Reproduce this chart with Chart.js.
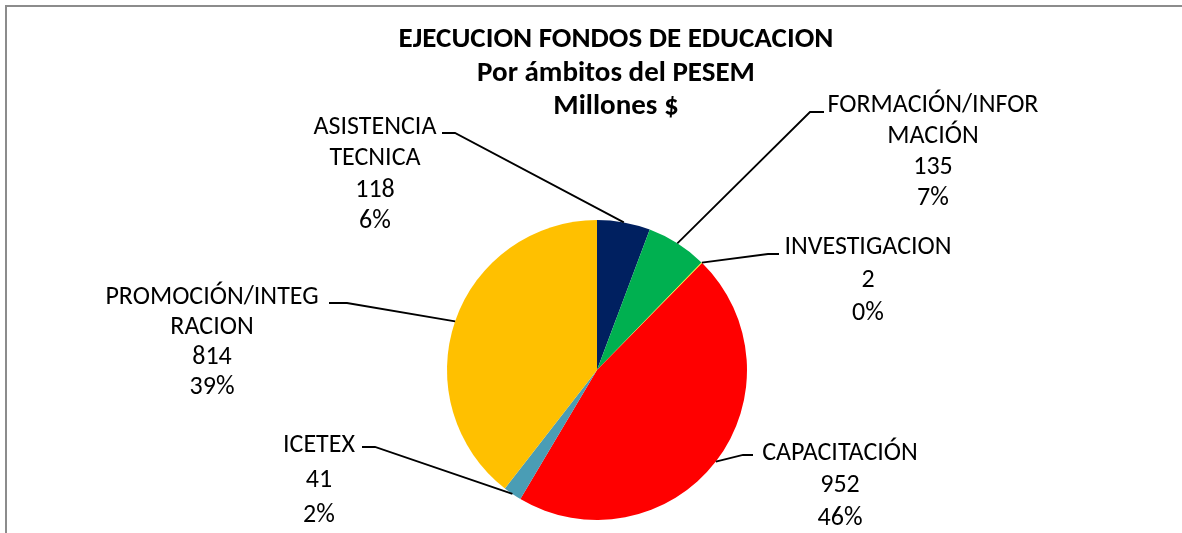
<!DOCTYPE html>
<html>
<head>
<meta charset="utf-8">
<script src="https://cdn.jsdelivr.net/npm/chart.js@4.4.1/dist/chart.umd.min.js"></script>
<style>
  html, body { margin: 0; padding: 0; background: #fff; }
  #wrap { width: 1182px; height: 533px; position: relative; }
</style>
</head>
<body>
<div id="wrap"><canvas id="pieChart" width="1182" height="533"></canvas></div>
<script>
// Datos del gráfico
const categories = ['ASISTENCIA TECNICA', 'FORMACIÓN/INFORMACIÓN', 'INVESTIGACION', 'CAPACITACIÓN', 'ICETEX', 'PROMOCIÓN/INTEGRACION'];
const values = [118, 135, 2, 952, 41, 814];
const sliceColors = ['#002060', '#00B050', '#FFFF00', '#FF0000', '#4A9DB5', '#FFC000'];
const titleLines = ['EJECUCION FONDOS DE EDUCACION', 'Por ámbitos del PESEM', 'Millones $'];

// Posición de cada etiqueta (centro x, primera línea y, interlineado, línea guía [inicio x, codo x, y])
const labelPos = [
  { cx: 375, y: 127, lh: 31.5, line: [442, 455, 133] },
  { cx: 933, y: 105, lh: 31, line: [824, 810, 112] },
  { cx: 868, y: 247, lh: 33, line: [779, 768, 254] },
  { cx: 840, y: 453, lh: 32.5, line: [753, 743, 455] },
  { cx: 319, y: 445, lh: 35, line: [362, 375, 447] },
  { cx: 212, y: 297, lh: 30, line: [329, 347, 303] }
];

const FONT = 'Carlito, Lato, sans-serif';

// Partir el texto como Excel (15 caracteres máx. por línea)
function wrapLabel(text, max) {
  const out = [];
  let rest = text;
  while (rest.length > max) {
    const sp = rest.lastIndexOf(' ', max);
    if (sp > 0) {
      out.push(rest.slice(0, sp));
      rest = rest.slice(sp + 1);
    } else {
      out.push(rest.slice(0, max));
      rest = rest.slice(max);
    }
  }
  out.push(rest);
  return out;
}

const total = values.reduce((a, b) => a + b, 0);

// Plugin: marco, título y etiquetas con líneas guía
const excelLabels = {
  id: 'excelLabels',
  beforeDraw(chart) {
    const ctx = chart.ctx;
    ctx.save();
    ctx.fillStyle = '#fff';
    ctx.fillRect(0, 0, chart.width, chart.height);
    ctx.strokeStyle = '#8C8C8C';
    ctx.lineWidth = 2;
    ctx.beginPath();
    ctx.moveTo(6, chart.height);
    ctx.lineTo(6, 6);
    ctx.lineTo(chart.width, 6);
    ctx.stroke();
    ctx.restore();
  },
  afterDraw(chart) {
    const ctx = chart.ctx;
    const meta = chart.getDatasetMeta(0);
    ctx.save();

    // Título
    ctx.fillStyle = '#000';
    ctx.textAlign = 'center';
    ctx.textBaseline = 'middle';
    ctx.font = 'bold 29px ' + FONT;
    titleLines.forEach((t, i) => ctx.fillText(t, 616, 40 + i * 33.5));

    // Etiquetas
    ctx.font = '26px ' + FONT;
    meta.data.forEach((arc, i) => {
      const pos = labelPos[i];
      const lines = wrapLabel(categories[i], 15);
      lines.push(String(values[i]));
      lines.push(Math.round(values[i] / total * 100) + '%');
      lines.forEach((t, k) => ctx.fillText(t, pos.cx, pos.y + k * pos.lh));

      const mid = (arc.startAngle + arc.endAngle) / 2;
      const px = arc.x + Math.cos(mid) * arc.outerRadius;
      const py = arc.y + Math.sin(mid) * arc.outerRadius;
      ctx.strokeStyle = '#000';
      ctx.lineWidth = 1.8;
      ctx.beginPath();
      ctx.moveTo(pos.line[0], pos.line[2]);
      ctx.lineTo(pos.line[1], pos.line[2]);
      ctx.lineTo(px, py);
      ctx.stroke();
    });
    ctx.restore();
  }
};

new Chart(document.getElementById('pieChart'), {
  type: 'pie',
  data: {
    labels: categories,
    datasets: [{
      data: values,
      backgroundColor: sliceColors,
      borderWidth: 0,
      hoverOffset: 0,
      offset: 0
    }]
  },
  options: {
    responsive: false,
    animation: false,
    layout: { padding: { top: 220, bottom: 13, left: 300, right: 288 } },
    plugins: {
      legend: { display: false },
      tooltip: { enabled: false },
      title: { display: false }
    }
  },
  plugins: [excelLabels]
});
</script>
</body>
</html>
